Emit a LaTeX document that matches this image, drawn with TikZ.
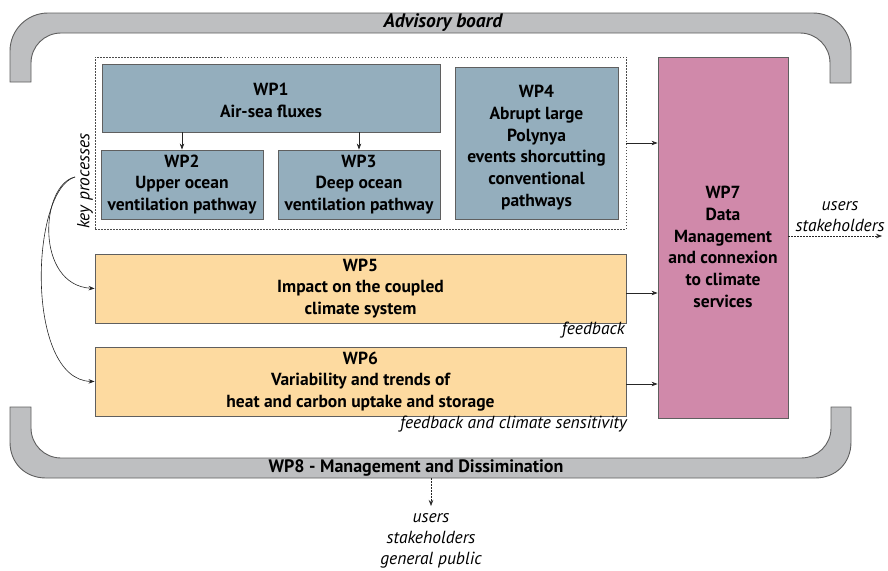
\documentclass[tikz,border=0pt]{standalone}
\usepackage{fontspec}
\setmainfont{PT Sans}
\usetikzlibrary{arrows.meta}
\definecolor{wpblue}{RGB}{148,174,189}
\definecolor{wporange}{RGB}{253,218,160}
\definecolor{wppink}{RGB}{208,137,170}
\definecolor{brgrey}{RGB}{190,191,193}
\definecolor{edgegrey}{RGB}{95,95,95}
\tikzset{
  wpbox/.style={draw=edgegrey, line width=0.9pt, inner sep=0pt, align=center,
    font=\fontsize{17.5}{21.8}\selectfont\bfseries},
  bluebox/.style={wpbox, fill=wpblue},
  orangebox/.style={wpbox, fill=wporange},
  pinkbox/.style={wpbox, fill=wppink},
  wptext/.style={align=center, inner sep=0pt, font=\fontsize{17.5}{21.8}\selectfont\bfseries},
  kpbox/.style={draw=black!70, dash pattern=on 1.5pt off 1.5pt, line width=0.7pt},
  bracket/.style={draw=edgegrey, line width=0.9pt, fill=brgrey},
  arr/.style={draw=black!85, line width=0.6pt, -{Stealth[length=6pt,width=4.5pt]}},
  darr/.style={arr, dash pattern=on 1.5pt off 1.5pt},
  itlabel/.style={inner sep=0pt, align=center, font=\fontsize{17.5}{21}\selectfont\itshape},
  brlabel/.style={inner sep=0pt, font=\fontsize{18}{20}\selectfont\bfseries},
}
\begin{document}
\begin{tikzpicture}[x=1pt,y=-1pt]
\useasboundingbox (0,0) rectangle (888,570);
% brackets
\path[bracket] (10,82) -- (10,51) .. controls (10,30) and (27,13) .. (48,13) -- (813,13)
  .. controls (834,13) and (851,30) .. (851,51) -- (851,83) -- (830,83) -- (830,63)
  .. controls (830,46.4) and (816.6,33) .. (800,33) -- (61,33)
  .. controls (44.4,33) and (31,46.4) .. (31,63) -- (31,82) -- cycle;
\path[bracket] (10,407) -- (10,442) .. controls (10,463) and (25,478) .. (46,478) -- (815,478)
  .. controls (836,478) and (851,463) .. (851,442) -- (851,407) -- (831,407) -- (831,428)
  .. controls (831,444.6) and (817.6,458) .. (801,458) -- (61,458)
  .. controls (44.4,458) and (31,444.6) .. (31,428) -- (31,407) -- cycle;
\node[brlabel, font=\fontsize{19.5}{20}\selectfont\bfseries\itshape] (adv) at (443,22.5) {Advisory board};
\node[brlabel] (wp8) at (416,468) {WP8 - Management and Dissimination};
% key processes
\node[kpbox, minimum width=531pt, minimum height=172pt] (kp) at (360.5,143) {};
\node[itlabel, rotate=90] (kptext) at (85,181) {key processes};
% boxes
\node[bluebox, minimum width=338pt, minimum height=68pt] (wp1) at (271,98) {};
\node[wptext] (wp1t) at (271,100) {WP1\\Air-sea fluxes};
\node[bluebox, minimum width=162pt, minimum height=69pt] (wp2) at (182,184.5) {WP2\\Upper ocean\\ventilation pathway};
\node[bluebox, minimum width=162pt, minimum height=69pt] (wp3) at (359,184.5) {WP3\\Deep ocean\\ventilation pathway};
\node[bluebox, minimum width=163pt, minimum height=152pt] (wp4) at (536.5,143) {};
\node[wptext] (wp4t) at (536.5,147.5) {WP4\\Abrupt large\\Polynya\\events shorcutting\\conventional\\pathways};
\node[pinkbox, minimum width=130pt, minimum height=361pt] (wp7) at (723,237.5) {};
\node[wptext] (wp7t) at (723,247) {WP7\\Data\\Management\\and connexion\\to climate\\services};
\node[orangebox, minimum width=531pt, minimum height=69pt] (wp5) at (360.5,288.5) {WP5\\Impact on the coupled\\climate system};
\node[orangebox, minimum width=531pt, minimum height=69pt] (wp6) at (360.5,381.5) {WP6\\Variability and trends of\\heat and carbon uptake and storage};
% labels
\node[itlabel, anchor=east] (fb1) at (625,330) {feedback};
\node[itlabel, anchor=east] (fb2) at (627,424) {feedback and climate sensitivity};
\node[itlabel] (users1) at (840,217) {users\\stakeholders};
\node[itlabel] (users2) at (431,540.5) {users\\stakeholders\\general public};
% arrows
\draw[arr] (wp1.south -| wp2.north) -- (wp2.north);
\draw[arr] (wp1.south -| wp3.north) -- (wp3.north);
\draw[arr] (kp.east) -- (kp.east -| wp7.west);
\draw[arr] ([yshift=-4.5pt]wp5.east) -- ([yshift=-4.5pt]wp5.east -| wp7.west);
\draw[arr] ([yshift=-2.5pt]wp6.east) -- ([yshift=-2.5pt]wp6.east -| wp7.west);
\coordinate (kpstart) at (75,177);
\draw[arr] (kpstart) .. controls (40,185) and (35,285) .. (wp5.west);
\draw[arr] (kpstart) .. controls (30,190) and (25,380) .. (wp6.west);
\coordinate (out1) at (882,236);
\draw[darr] (wp7.east |- out1) -- (out1);
\coordinate (wp8b) at (431,478);
\coordinate (wp8e) at (431,506);
\draw[darr] (wp8b) -- (wp8e);
\end{tikzpicture}
\end{document}
